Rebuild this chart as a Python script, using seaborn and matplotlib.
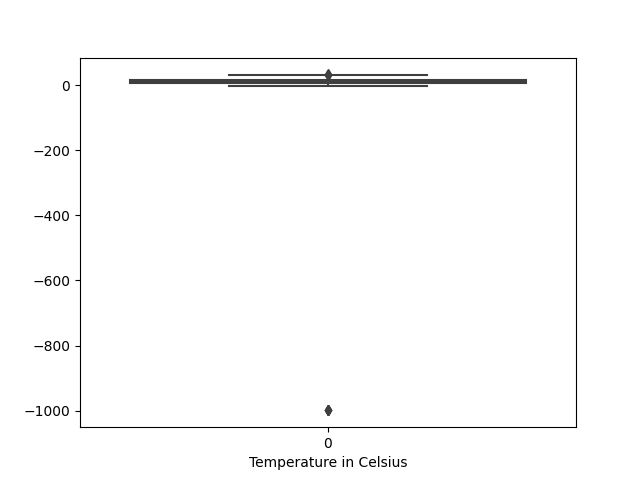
import numpy as np
import pandas as pd
import seaborn as sns
import matplotlib
matplotlib.use("Agg")
import matplotlib.pyplot as plt

# temperature readings, -999 marks missing values in the source
missing = [-999, -999, -999, -999, -999]
core = [-4, -2, 0, 1, 2, 3, 4, 4, 5, 5, 5, 6, 6, 6, 7, 7, 7, 8, 8, 8, 9, 9, 9,
        10, 10, 10, 11, 11, 11, 12, 12, 12, 13, 13, 13, 14, 14, 14, 15, 15, 15,
        16, 16, 16, 17, 17, 18, 18, 19, 20, 22, 24, 26, 28, 30]
hot = [32, 32, 33]
temps = missing + core + hot

df = pd.DataFrame({0: temps})

plt.figure(figsize=(6.4, 4.8), dpi=100)
ax = sns.boxplot(data=df, color="#3f3f3f", linecolor="#3f3f3f", linewidth=1.5,
                 flierprops=dict(marker="d", markerfacecolor="#3f3f3f",
                                 markeredgecolor="#3f3f3f", markersize=5))
plt.xlabel("Temperature in Celsius")
plt.savefig("out.png")
